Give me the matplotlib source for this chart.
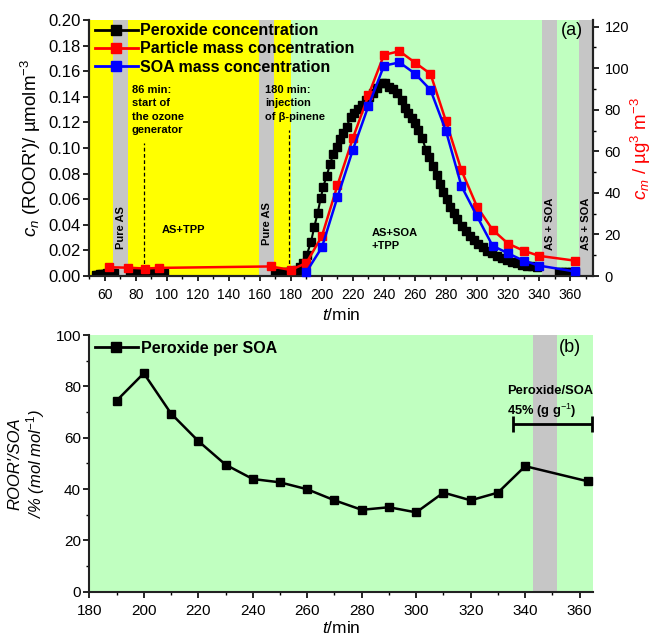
import numpy as np
import matplotlib
matplotlib.use('Agg')
import matplotlib.pyplot as plt
from matplotlib.lines import Line2D
from matplotlib.ticker import MultipleLocator

plt.rcParams['font.family'] = ['Liberation Sans', 'DejaVu Sans']
plt.rcParams['mathtext.fontset'] = 'custom'
plt.rcParams['mathtext.rm'] = 'Liberation Sans'
plt.rcParams['mathtext.it'] = 'Liberation Sans:italic'
plt.rcParams['mathtext.bf'] = 'Liberation Sans:bold'

# ---------------- data ----------------
nan = np.nan
# peroxide concentration (left axis, umol m-3); NaN separates measurement segments
t_perox = [54, 55.5, 57, 58.5, 60, 61.5, 63, 64.5, 66, nan,
           76, 78, 80, 82, 84, 86, 88, 90, 92, 94, 96, 98, nan,
           170, 172, 174, 176, 178, 180, 182, 184, 186, 188,
           190.2, 193, 195.1, 197.3, 199.2, 200.9, 203.1, 205.2, 207.3, 209.5,
           211.6, 213.8, 215.9, 218.5, 220.7, 223, 225.6, 228.2, 230.5, 233.1,
           235.7, 238.5, 240.7, 243.4, 246, 248.6, 251.4, 253.5, 255.7, 258.3,
           260, 262.1, 264.7, 267.1, 269.2, 271.8, 274, 276.1, 278.3, 280.4,
           282.6, 285.1, 287.3, 290.1, 292.7, 295.5, 298, 300.8, 303.6, 306.6,
           309.4, 312.7, 315.9, 319.1, 322.3, 325.6, 328.8, 332, 335.2, 338.5, nan,
           353, 355, 357, 359, 361, 363]
c_perox = [0.0008, 0.0011, 0.0014, 0.0017, 0.0019, 0.002, 0.0021, 0.0022, 0.0022, nan,
           0.002, 0.0021, 0.0022, 0.0022, 0.0023, 0.0023, 0.0024, 0.0024, 0.0024, 0.0025, 0.0025, 0.0025, nan,
           0.002, 0.0022, 0.0025, 0.003, 0.0033, 0.0036, 0.004, 0.005, 0.007, 0.010,
           0.0164, 0.0268, 0.0385, 0.0495, 0.0607, 0.0698, 0.0784, 0.0872, 0.0953, 0.1005,
           0.1068, 0.1115, 0.1166, 0.124, 0.1276, 0.1302, 0.1336, 0.1375, 0.1401, 0.1427,
           0.1466, 0.1505, 0.151, 0.1479, 0.1458, 0.1427, 0.1375, 0.131, 0.1271, 0.1232,
           0.1193, 0.1141, 0.1076, 0.0984, 0.0932, 0.0859, 0.0789, 0.0719, 0.0659, 0.0599,
           0.0541, 0.049, 0.0443, 0.0393, 0.0354, 0.0315, 0.0281, 0.025, 0.0224, 0.0198,
           0.0177, 0.0159, 0.0141, 0.0125, 0.0112, 0.0099, 0.0088, 0.008, 0.0076, 0.0073, nan,
           0.0030, 0.0032, 0.0034, 0.0034, 0.0033, 0.0032]

# particle mass concentration (right axis, ug m-3)
t_particle = [63, 75, 86, 95, 167, 180, 190, 200, 210, 220, 230, 240, 250, 260,
              270, 280, 290, 300, 310, 320, 330, 340, 363]
particle_mass = [4.2, 4.0, 3.6, 3.9, 4.6, 2.9, 6.3, 19.2, 43.6, 66.4, 87.0, 106.4,
                 108.2, 102.7, 97.3, 74.5, 50.8, 33.4, 22.3, 15.6, 12.2, 9.7, 7.4]

# SOA mass concentration (right axis)
t_soa = [190, 200, 210, 220, 230, 240, 250, 260, 270, 280, 290, 300, 310, 320, 330, 340, 363]
soa_mass = [2.0, 13.8, 37.9, 60.8, 81.9, 101.2, 102.8, 97.4, 89.6, 69.8, 43.2, 28.8,
            14.6, 10.9, 7.4, 5.0, 2.2]

# peroxide per SOA (%)
t_ratio = [190, 200, 210, 220, 230, 240, 250, 260, 270, 280, 290, 300, 310, 320, 330, 340, 363]
ratio = [74.4, 85.1, 69.4, 58.7, 49.5, 43.9, 42.6, 39.9, 35.6, 31.9, 32.9, 30.9,
         38.6, 35.6, 38.6, 48.9, 43.0]

# mean peroxide/SOA span
mean_span = [335.4, 364.6]
mean_level = 65.3

# background phases
yellow_phase = (50, 180)
green_phase_a = (180, 375)
gray_a = [(65.5, 75), (159.5, 169), (342, 351.7), (366, 375)]
green_phase_b = (180, 365)
gray_b = [(343, 351.7)]
event_times = [85, 179]

YELLOW = '#FFFF00'
GREEN = '#C0FFC0'
GRAY = '#C6C6C6'

fig = plt.figure(figsize=(6.54, 6.36), dpi=100)
W, H = 654, 636
axA = fig.add_axes([89.3 / W, 1 - 276 / H, 504 / W, 256 / H])
axB = fig.add_axes([89.3 / W, 1 - 591.7 / H, 504 / W, 256.7 / H])

# ---------------- panel (a) ----------------
axA.set_xlim(50, 375)
axA.set_ylim(0, 0.20)
axA.axvspan(*yellow_phase, color=YELLOW, lw=0, zorder=0)
axA.axvspan(*green_phase_a, color=GREEN, lw=0, zorder=0)
for a, b in gray_a:
    axA.axvspan(a, b, color=GRAY, lw=0, zorder=0.5)
axA.axvline(event_times[0], ymin=0, ymax=0.52, color='black', ls=(0, (3, 2)), lw=0.9, zorder=1)
axA.axvline(event_times[1], ymin=0, ymax=0.57, color='black', ls=(0, (3, 2)), lw=0.9, zorder=1)

axA.plot(t_perox, c_perox, color='black', lw=1.5, marker='s', ms=5.2, mec='black', mfc='black', zorder=3)

ax2 = axA.twinx()
ax2.set_ylim(0, 123.2)
ax2.plot(t_particle, particle_mass, color='#FF0000', lw=1.8, marker='s', ms=5.6,
         mfc='#FF0000', mec='#FF0000', zorder=3)
ax2.plot(t_soa, soa_mass, color='#0000FF', lw=1.8, marker='s', ms=5.6,
         mfc='#0000FF', mec='#0000FF', zorder=4, clip_on=False)

for ax in (axA, ax2):
    ax.spines['top'].set_visible(False)
    for s in ax.spines.values():
        s.set_linewidth(1.5)
        s.set_color('#222222')

axA.xaxis.set_major_locator(MultipleLocator(20))
axA.xaxis.set_minor_locator(MultipleLocator(10))
axA.set_yticks(np.arange(0, 0.201, 0.02))
axA.set_yticklabels([f'{v:.2f}' for v in np.arange(0, 0.201, 0.02)])
axA.tick_params(axis='x', direction='out', length=3.5, width=1.2, labelsize=10, pad=5)
axA.tick_params(axis='x', which='minor', direction='out', length=2.5, width=1.0)
axA.tick_params(axis='y', direction='out', length=4, width=1.2, labelsize=12, pad=2)
ax2.yaxis.set_major_locator(MultipleLocator(20))
ax2.yaxis.set_minor_locator(MultipleLocator(10))
ax2.tick_params(axis='y', direction='out', length=4, width=1.2, labelsize=10.5, pad=4)
ax2.tick_params(axis='y', which='minor', direction='out', length=2.5, width=1.0)

axA.set_xlabel('$t$/min', fontsize=12.5, labelpad=4)
axA.set_ylabel("$c_n$ (ROOR')/ µmolm$^{-3}$", fontsize=13.5, labelpad=4)
ax2.set_ylabel('$c_m$ / µg$^3$ m$^{-3}$', fontsize=13.5, color='#FF0000', labelpad=0)

handles = [Line2D([], [], color='black', lw=2, marker='s', ms=6.5),
           Line2D([], [], color='#FF0000', lw=2, marker='s', ms=6.5),
           Line2D([], [], color='#0000FF', lw=2, marker='s', ms=6.5)]
leg = ax2.legend(handles, ['Peroxide concentration', 'Particle mass concentration',
                           'SOA mass concentration'],
                 loc='upper left', bbox_to_anchor=(-0.008, 1.025), frameon=False,
                 prop={'weight': 'bold', 'size': 11.5}, handlelength=2.7,
                 handletextpad=0.1, labelspacing=0.2, borderaxespad=0.2)

bold8 = dict(fontsize=8, fontweight='bold', color='black')
axA.text(77.5, 0.1495, '86 min:\nstart of\nthe ozone\ngenerator', ha='left', va='top',
         linespacing=1.45, **bold8)
axA.text(163.5, 0.1495, '180 min:\ninjection\nof β-pinene', ha='left', va='top',
         linespacing=1.45, **bold8)
axA.text(110.5, 0.036, 'AS+TPP', ha='center', va='center', **bold8)
axA.text(70.3, 0.038, 'Pure AS', rotation=90, ha='center', va='center', **bold8)
axA.text(164.3, 0.041, 'Pure AS', rotation=90, ha='center', va='center', **bold8)
axA.text(232, 0.0285, 'AS+SOA\n+TPP', ha='left', va='center', linespacing=1.45, **bold8)
axA.text(346.9, 0.041, 'AS + SOA', rotation=90, ha='center', va='center', **bold8)
axA.text(370.5, 0.041, 'AS + SOA', rotation=90, ha='center', va='center', **bold8)
axA.text(361, 0.1915, '(a)', ha='center', va='center', fontsize=13)

# ---------------- panel (b) ----------------
axB.set_xlim(180, 365)
axB.set_ylim(0, 100)
axB.axvspan(*green_phase_b, color=GREEN, lw=0, zorder=0)
for a, b in gray_b:
    axB.axvspan(a, b, color=GRAY, lw=0, zorder=0.5)
axB.plot(t_ratio, ratio, color='black', lw=1.8, marker='s', ms=5.6, zorder=3)
mid = (mean_span[0] + mean_span[1]) / 2
axB.errorbar([mid], [mean_level], xerr=[[mid - mean_span[0]], [mean_span[1] - mid]],
             fmt='none', ecolor='black', elinewidth=2, capsize=6, capthick=2, zorder=3,
             clip_on=False)
axB.text(333.3, 73.8, 'Peroxide/SOA\n45% (g g$^{-1}$)', ha='left', va='center',
         fontsize=9.3, fontweight='bold', linespacing=1.35)
axB.text(356.6, 95.3, '(b)', ha='center', va='center', fontsize=13)

axB.spines['top'].set_visible(False)
axB.spines['right'].set_visible(False)
for s in ('left', 'bottom'):
    axB.spines[s].set_linewidth(1.5)
    axB.spines[s].set_color('#222222')
axB.xaxis.set_major_locator(MultipleLocator(20))
axB.xaxis.set_minor_locator(MultipleLocator(10))
axB.yaxis.set_major_locator(MultipleLocator(20))
axB.yaxis.set_minor_locator(MultipleLocator(10))
axB.tick_params(axis='both', direction='out', length=4, width=1.2, labelsize=11)
axB.tick_params(axis='both', which='minor', direction='out', length=2.5, width=1.0)
axB.tick_params(axis='x', pad=5)
axB.tick_params(axis='y', pad=2)
axB.set_xlabel('$t$/min', fontsize=12.5, labelpad=1)
axB.set_ylabel("ROOR'/SOA\n/% (mol mol$^{-1}$)", fontsize=12, style='italic',
               linespacing=1.1, labelpad=6)
axB.legend([Line2D([], [], color='black', lw=2, marker='s', ms=6.5)], ['Peroxide per SOA'],
           loc='upper left', bbox_to_anchor=(-0.008, 1.015), frameon=False,
           prop={'weight': 'bold', 'size': 11.5}, handlelength=2.7, handletextpad=0.2,
           borderaxespad=0.2)

fig.savefig('out.png', dpi=100)
